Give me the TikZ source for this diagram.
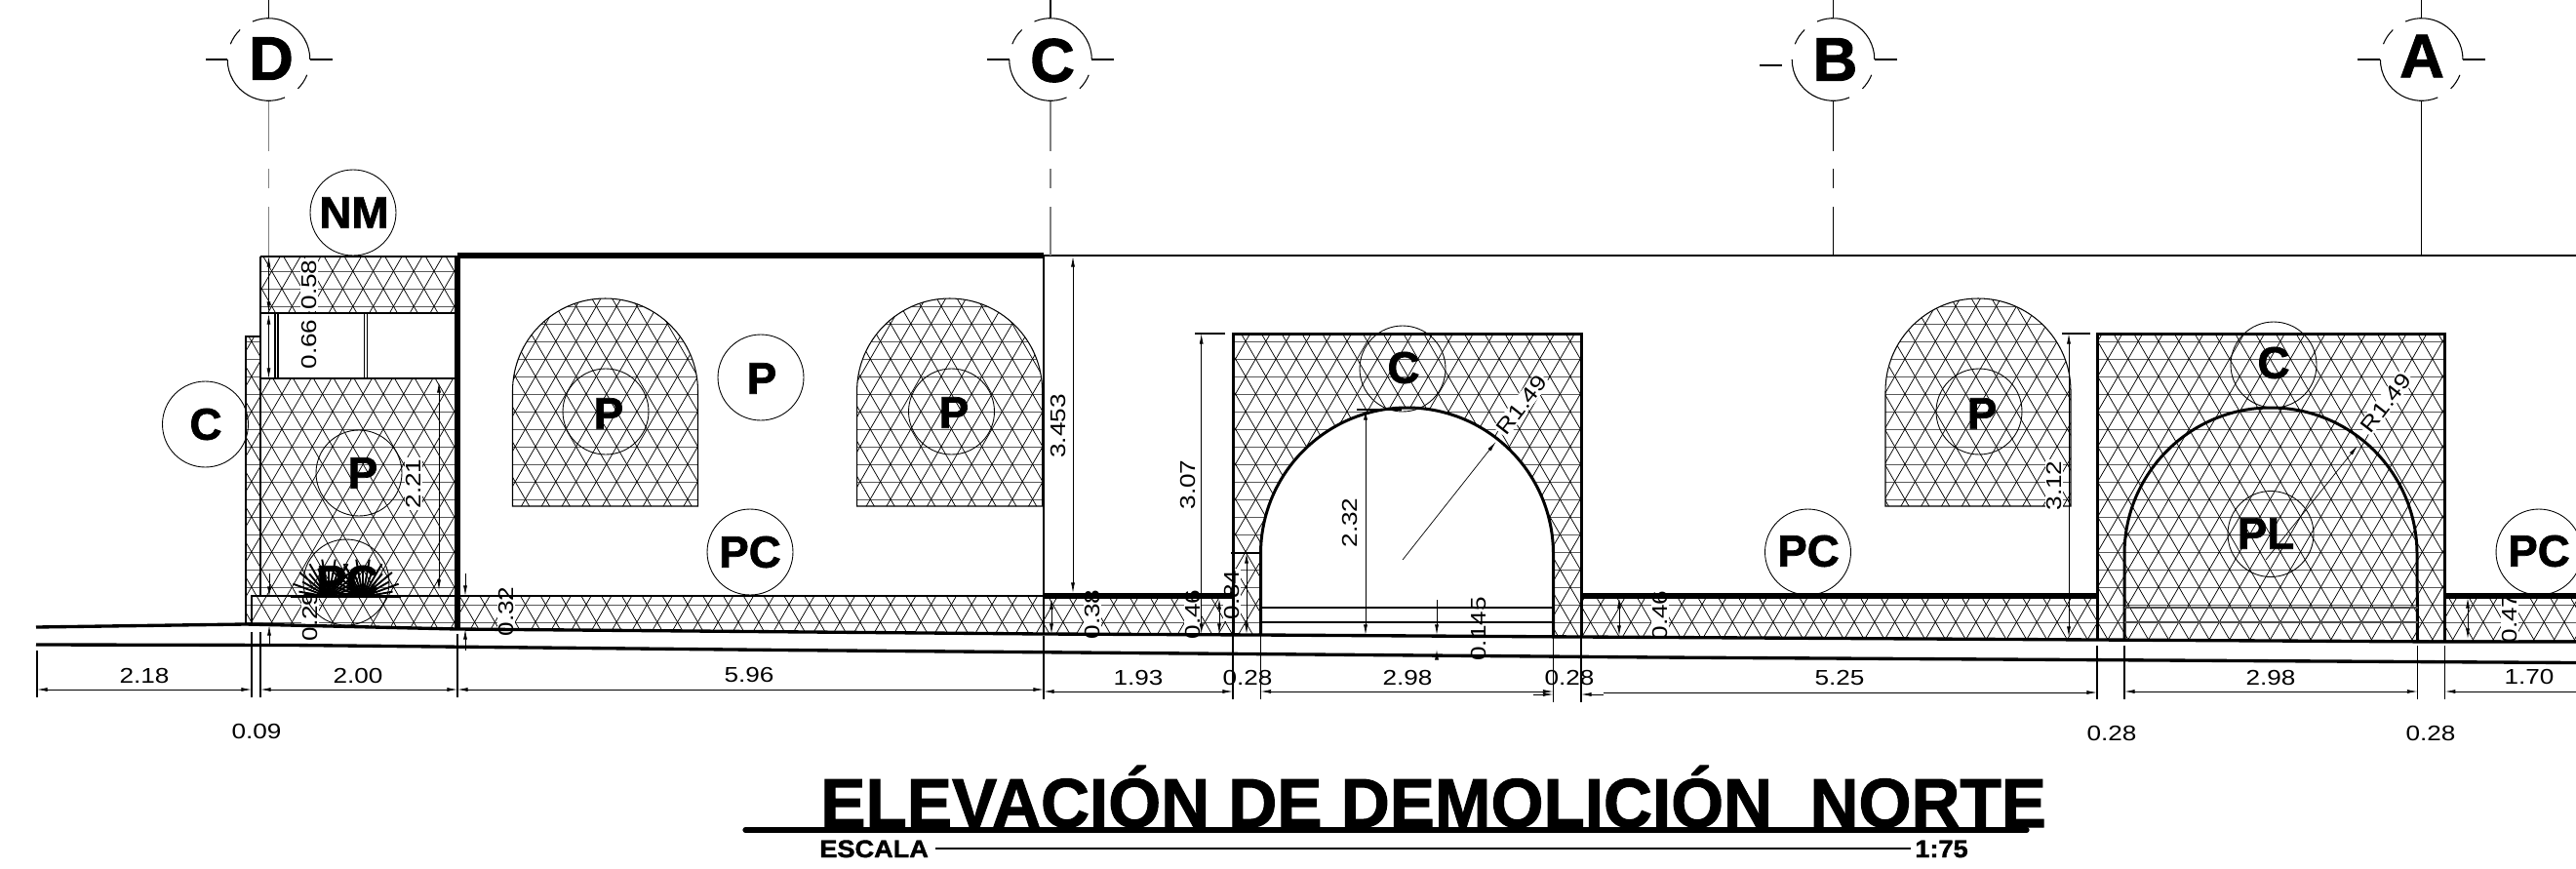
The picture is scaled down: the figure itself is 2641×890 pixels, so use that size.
\documentclass[tikz,border=0pt]{standalone}
\usepackage{fontspec}
\usetikzlibrary{arrows.meta}
\setmainfont{Liberation Sans}
\newfontfamily\dimfont[FakeStretch=1.2]{Liberation Sans}
\newfontfamily\tagfont[BoldFeatures={FakeBold=1.5}]{Liberation Sans}
\newfontfamily\titlefont[FakeStretch=0.973,BoldFeatures={FakeBold=1.5}]{Liberation Sans}
\newfontfamily\escalafont[FakeStretch=1.08,BoldFeatures={FakeBold=1.5}]{Liberation Sans}
\tikzset{
  wallthin/.style={line width=0.6pt},
  wallmid/.style={line width=1.3pt},
  wallthick/.style={line width=3.2pt},
  hatchline/.style={line width=0.42pt},
  hatchrow/.style={line width=0.5pt,black!65},
  dimline/.style={line width=0.4pt,{Latex[length=6pt,width=2.2pt]}-{Latex[length=6pt,width=2.2pt]}},
  dimtext/.style={font=\dimfont\fontsize{12.4}{12.4}\selectfont,inner sep=0pt},
  dimmask/.style={dimtext,fill=white,inner sep=0.8pt,rotate=90},
  tagcircle/.style={circle,draw,line width=0.5pt,minimum size=1.76cm,inner sep=0pt,outer sep=0pt},
  tagtext/.style={font=\tagfont\bfseries\fontsize{26}{26}\selectfont,inner sep=0pt},
  axistext/.style={font=\tagfont\bfseries\fontsize{36}{36}\selectfont,inner sep=0pt},
}
\begin{document}
\begin{tikzpicture}[x=0.02cm,y=-0.02cm]
  \useasboundingbox (0,0) rectangle (2641,890);
  % hatch
  \begin{scope}
    \clip (267,263) -- (469,263) -- (469,321) -- (267,321) -- cycle
      (252,345) -- (267,345) -- (267,388) -- (469,388) -- (469,645) -- (252,640) -- cycle
      (469,611) -- (1264,611) -- (1264,650) -- (1070,650) -- (469,645) -- cycle
      (1264,342) -- (1621,342) -- (1621,653) -- (1592.5,652.7) -- (1592.5,568)
        arc[start angle=0,end angle=-180,radius=150] -- (1292.5,651) -- (1264,650) -- cycle
      (1621,611) -- (2641,611) -- (2641,658) -- (2506,658) -- (2150,656) -- (1621,653) -- cycle
      (2150,342) -- (2506.7,342) -- (2506.7,658) -- (2150,656) -- cycle
      (525.5,519) -- (525.5,401) arc[start angle=180,end angle=360,radius=95] -- (715.5,519) -- cycle
      (878.6,519) -- (878.6,401) arc[start angle=180,end angle=360,radius=95] -- (1068.6,519) -- cycle
      (1933,519) -- (1933,401) arc[start angle=180,end angle=360,radius=95] -- (2123,519) -- cycle;
    \foreach \k in {0,...,23} {
      \draw[hatchrow] (240,260+18*\k) -- (2641,260+18*\k);
    }
    \foreach \k in {-12,...,126} {
      \draw[hatchline] (289+20.8*\k-26.6,250) -- (289+20.8*\k+216.2,670);
      \draw[hatchline] (289+20.8*\k+26.6,250) -- (289+20.8*\k-216.2,670);
    }
  \end{scope}
  % window outlines
  \foreach \wx in {525.5,878.6,1933} {
    \draw[wallthin] (\wx,519) -- (\wx,401) arc[start angle=180,end angle=360,radius=95] -- (\wx+190,519) -- cycle;
  }
  % rotated dimension texts
  \foreach[count=\i] \lbl/\px/\py in {0.58/317/292,0.66/317/353,2.21/424/496,0.29/318/632,0.32/519/627,
      3.453/1085/437,3.07/1218/497,2.32/1384/536,0.145/1516/645,0.38/1120/630,0.46/1223/630,
      0.84/1263/610,0.46/1702/631,3.12/2106/498,0.47/2573/634} {
    \node[dimmask] (dv-\i) at (\px,\py) {\lbl};
  }
  \node[dimmask,rotate=-38] (r-a) at (1560,415) {R1.49};
  \node[dimmask,rotate=-38] (r-b) at (2446,413) {R1.49};
  % horizontal dimension texts
  \foreach[count=\i] \lbl/\px/\py in {2.18/148/693,2.00/367/693,5.96/768/692,1.93/1167/695,0.28/1279/695,
      2.98/1443/695,0.28/1609/695,5.25/1886/695,2.98/2328/695,1.70/2593/694,0.09/263/750,0.28/2165/752,0.28/2492/752} {
    \node[dimtext] (dh-\i) at (\px,\py) {\lbl};
  }
  % walls
  \draw[wallthin] (252,640) -- (252,345) -- (267,345);
  \draw[wallmid] (267,263) -- (469,263) (267,321) -- (469,321) (267,388) -- (469,388);
  \draw[wallmid] (267,263) -- (267,611);
  \draw[wallthin] (258,640) -- (258,611) -- (469,611);
  \draw[wallthin] (282,321) -- (282,388) (285,321) -- (285,388) (373.5,321) -- (373.5,388) (376.5,321) -- (376.5,388);
  \draw[wallthick] (469,262) -- (1070,262);
  \draw[wallthick] (469,262) -- (469,645);
  \draw[wallmid] (1070,262) -- (2641,262);
  \draw[wallmid] (1070,262) -- (1070,650);
  \draw[wallmid] (469,611) -- (1070,611);
  \draw[wallthick] (1070,611) -- (1264,611) (1621,611) -- (2150,611) (2506.7,611) -- (2641,611);
  % arches
  \draw[wallmid,line width=1.7pt] (1264,650) -- (1264,342) -- (1621,342) -- (1621,653);
  \draw[wallmid,line width=1.7pt] (1292.5,651) -- (1292.5,568) arc[start angle=180,end angle=360,radius=150] -- (1592.5,652.7);
  \draw[wallthin] (1292.5,623) -- (1592.5,623) (1292.5,638) -- (1592.5,638);
  \draw[wallmid,line width=1.7pt] (2150,656) -- (2150,342) -- (2506.7,342) -- (2506.7,658);
  \draw[wallmid,line width=1.7pt] (2178,656) -- (2178,568) arc[start angle=180,end angle=360,radius=150] -- (2478.5,658);
  \draw[wallthin,black!70] (2178,623) -- (2478.5,623) (2178,638) -- (2478.5,638);
  % ground
  \draw[wallmid,line width=1.9pt] (37,643) -- (252,640) -- (469,645) -- (1070,650) -- (1292,651) -- (1621,653) -- (2150,656) -- (2506,658) -- (2641,658);
  \draw[wallmid,line width=1.9pt] (37,661) -- (300,661.5) -- (800,666.5) -- (1700,674) -- (2641,679.5);
  \draw[wallmid] (38,667) -- (38,683);
  % extension lines
  \foreach \ex/\ea/\eb in {38/683/715,258/648/715,267/648/715,469/650/715,1070/652/717,1264/652/717,1292.5/652/717,
      1592.5/654/720,1621/654/720,2150/662/717,2178/662/717,2478.5/662/717,2506.7/662/717} {
    \draw[wallthin] (\ex,\ea) -- (\ex,\eb);
  }
  % dimension lines
  \foreach \xa/\xb/\yd in {38/258/707,267/469/707,469/1070/707,1070/1264/709,1292.5/1592.5/709,2178/2478.5/709} {
    \draw[dimline] (\xa,\yd) -- (\xb,\yd);
  }
  \draw[dimline,{Latex[length=6pt,width=2.2pt]}-] (1621,712) -- (1644,712);
  \draw[dimline,-{Latex[length=6pt,width=2.2pt]}] (1572,712) -- (1592.5,712);
  \draw[dimline,-{Latex[length=6pt,width=2.2pt]}] (1644,710) -- (2150,710);
  \draw[dimline,{Latex[length=6pt,width=2.2pt]}-] (2506.7,709) -- (2641,709);
  \foreach \xd/\ya/\yb in {275.5/263/320,275.5/322/388,450/392/605,1100/263/608,1231.7/342/650,1400/420/651,
      1078/614/650,1250/614/650,1278/567/650,1660/613/652,2530/613/655,2121/342/653} {
    \draw[dimline] (\xd,\ya) -- (\xd,\yb);
  }
  \foreach \xd/\ya/\yb/\yc/\ye in {276/588/612/663/641,477/588/611/667/645,1473/615/651/675/666} {
    \draw[dimline,{}-{Latex[length=6pt,width=2.2pt]}] (\xd,\ya) -- (\xd,\yb);
    \draw[dimline,{}-{Latex[length=6pt,width=2.2pt]}] (\xd,\yc) -- (\xd,\ye);
  }
  \draw[wallthin] (1225,342) -- (1256,342) (1391,420) -- (1437,420) (1262,567) -- (1291,567) (2114,342) -- (2143,342);
  \draw[dimline,{}-{Latex[length=6pt,width=2.2pt]}] (1438,574) -- (1533.6,453);
  \draw[dimline,{}-{Latex[length=6pt,width=2.2pt]}] (2323,574) -- (2417,457);
  % tags
  \foreach[count=\i] \lbl/\cx/\cy/\tx/\ty in {NM/362/218/363/218,C/210.5/435/211/435,P/368/485/372/485,P/621/422/624/424,
      P/975.5/422/978/423,P/2029/422/2032/424,P/780/387/781/388,PC/769/566/769/566,PC/1853.5/566/1854/565,PC/2603/566/2603/565,
      C/1438/378/1439/377,C/2331/374/2331/372,PL/2328/547.5/2323/547,PC/355/597/356/596} {
    \node[tagcircle] (tag-\i) at (\cx,\cy) {};
    \node[tagtext] (tagtxt-\i) at (\tx,\ty) {\lbl};
  }
  % plants
  \foreach \px in {337,372} {
    \foreach[count=\j] \a in {0,10,...,180} {
      \pgfmathsetmacro{\rl}{mod(\j,2)==0 ? 31 : 39}
      \draw[line width=1.1pt] (\px,612) -- ++(-\a:\rl);
    }
  }
  % grid axes
  \foreach \gl/\gx/\gy/\tx/\ty in {D/275.5/61/278/60,C/1077/61/1079/62,B/1879.5/61/1881.5/61,A/2482.7/61/2483/57.5} {
    \node[axistext] (ax-\gl) at (\tx,\ty) {\gl};
    \foreach \sa/\sb in {0/113,134/158,180/293,315/338} {
      \draw[wallthin] (\gx,\gy) ++(-\sa:42.3) arc[start angle=-\sa,end angle=-\sb,radius=42.3];
    }
    \draw[wallthin] (\gx,0) -- (\gx,18);
    \draw[wallthin] (\gx+42.3,\gy) -- (\gx+65,\gy);
  }
  \foreach \gx in {275.5,1077} {
    \draw[wallthin] (\gx-42.3,61) -- (\gx-65,61);
    \draw[wallthin,gray] (\gx,104) -- (\gx,155) (\gx,173) -- (\gx,193) (\gx,212) -- (\gx,262);
  }
  \draw[wallthin] (1827,67) -- (1804,67);
  \draw[wallthin] (1879.5,104) -- (1879.5,155) (1879.5,173) -- (1879.5,193) (1879.5,212) -- (1879.5,262);
  \draw[wallthin] (2440.4,61) -- (2417,61);
  \draw[wallthin] (2482.7,104) -- (2482.7,262);
  % title
  \node[font=\titlefont\bfseries\fontsize{40.5}{40.5}\selectfont,inner sep=0pt,anchor=base west] (title) at (841,848) {ELEVACIÓN DE DEMOLICIÓN\ \ NORTE};
  \node[font=\escalafont\bfseries\fontsize{14.3}{14.3}\selectfont,inner sep=0pt,anchor=base west] (escala) at (840,879) {ESCALA};
  \node[font=\escalafont\bfseries\fontsize{14.3}{14.3}\selectfont,inner sep=0pt,anchor=base west] (scale) at (1963,879) {1:75};
  \draw[line width=3pt,line cap=round] (764,851) -- (2078,851);
  \draw[wallthin] (escala.east |- 0,870) ++(7,0) -- (1959,870);
\end{tikzpicture}
\end{document}
